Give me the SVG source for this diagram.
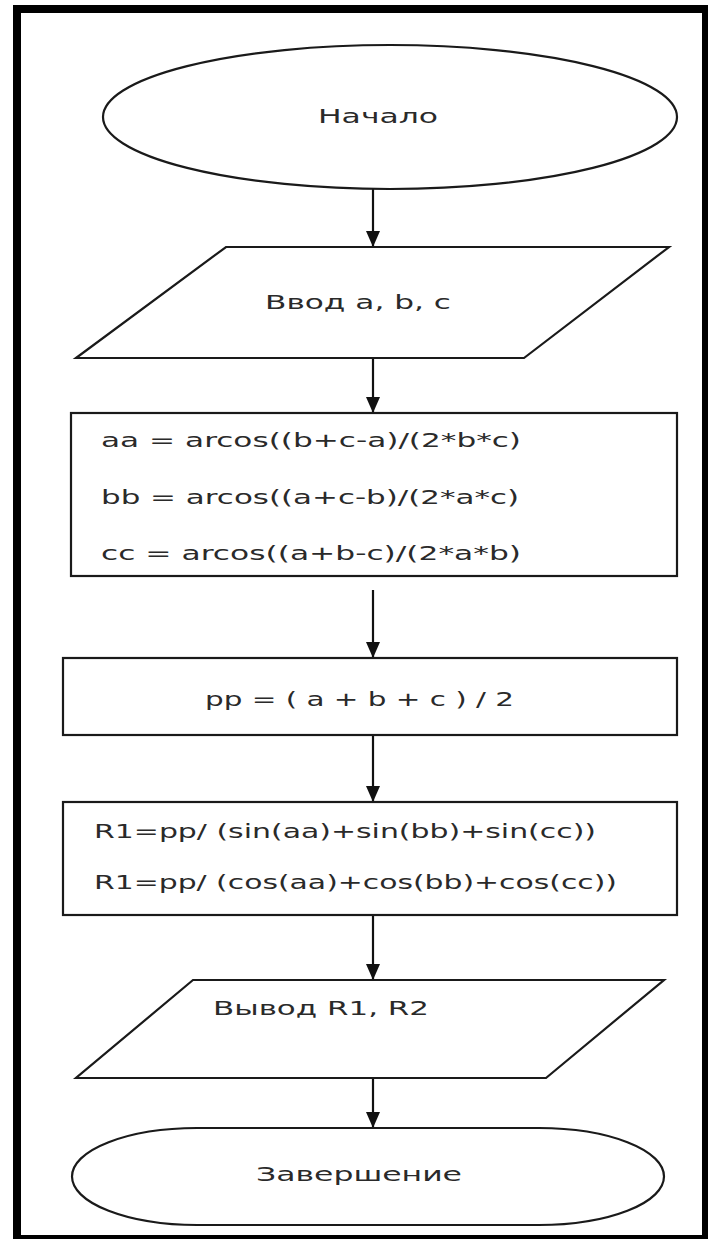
<svg xmlns="http://www.w3.org/2000/svg" width="708" height="1239" viewBox="0 0 708 1239">
<style>
.shape{fill:#fff;stroke:#1a1a1a;stroke-width:2.2}
.conn{stroke:#111;stroke-width:2.2;fill:none}
.t{font-family:"DejaVu Sans","Liberation Sans",sans-serif;font-size:20px;fill:#2a2a2a}
</style>
<defs>
<marker id="arr" markerWidth="16" markerHeight="14" refX="16" refY="7" orient="auto" markerUnits="userSpaceOnUse">
<path d="M0,0 L16,7 L0,14 Z" fill="#111"/>
</marker>
</defs>
<rect x="0" y="0" width="708" height="1239" fill="#fff"/>
<g id="frame" fill="#000">
<rect x="13" y="5" width="695" height="8"/>
<rect x="13" y="5" width="8" height="1234"/>
<rect x="702" y="5" width="6" height="1234"/>
<rect x="13" y="1235" width="695" height="4"/>
</g>
<g id="connectors">
<line class="conn" x1="373" y1="189" x2="373" y2="247" marker-end="url(#arr)"/>
<line class="conn" x1="373" y1="358" x2="373" y2="413" marker-end="url(#arr)"/>
<line class="conn" x1="373" y1="590" x2="373" y2="658" marker-end="url(#arr)"/>
<line class="conn" x1="373" y1="735" x2="373" y2="802" marker-end="url(#arr)"/>
<line class="conn" x1="373" y1="915" x2="373" y2="980" marker-end="url(#arr)"/>
<line class="conn" x1="373" y1="1078" x2="373" y2="1128" marker-end="url(#arr)"/>
</g>
<g id="start">
<ellipse class="shape" cx="390" cy="117" rx="287" ry="72"/>
<text class="t" x="318" y="123" textLength="120" lengthAdjust="spacingAndGlyphs">Начало</text>
</g>
<g id="input">
<polygon class="shape" points="226,247 669,247 524,358 76,358"/>
<text class="t" x="265" y="309" textLength="186" lengthAdjust="spacingAndGlyphs">Ввод a, b, c</text>
</g>
<g id="angles">
<rect class="shape" x="71" y="413" width="606" height="163"/>
<text class="t" x="101" y="447" textLength="420" lengthAdjust="spacingAndGlyphs">aa = arcos((b+c-a)/(2*b*c)</text>
<text class="t" x="101" y="504" textLength="418" lengthAdjust="spacingAndGlyphs">bb = arcos((a+c-b)/(2*a*c)</text>
<text class="t" x="101" y="560" textLength="420" lengthAdjust="spacingAndGlyphs">cc = arcos((a+b-c)/(2*a*b)</text>
</g>
<g id="perimeter">
<rect class="shape" x="63" y="658" width="614" height="77"/>
<text class="t" x="205" y="706" textLength="309" lengthAdjust="spacingAndGlyphs">pp = ( a + b + c ) / 2</text>
</g>
<g id="radii">
<rect class="shape" x="63" y="802" width="614" height="113"/>
<text class="t" x="94" y="838" textLength="502" lengthAdjust="spacingAndGlyphs">R1=pp/  (sin(aa)+sin(bb)+sin(cc))</text>
<text class="t" x="94" y="889" textLength="523" lengthAdjust="spacingAndGlyphs">R1=pp/  (cos(aa)+cos(bb)+cos(cc))</text>
</g>
<g id="output">
<polygon class="shape" points="193,980 664,980 546,1078 76,1078"/>
<text class="t" x="213" y="1015" textLength="216" lengthAdjust="spacingAndGlyphs">Вывод R1, R2</text>
</g>
<g id="end">
<rect class="shape" x="72" y="1128" width="592" height="97" rx="125" ry="48.5"/>
<text class="t" x="256" y="1181" textLength="206" lengthAdjust="spacingAndGlyphs">Завершение</text>
</g>
</svg>
